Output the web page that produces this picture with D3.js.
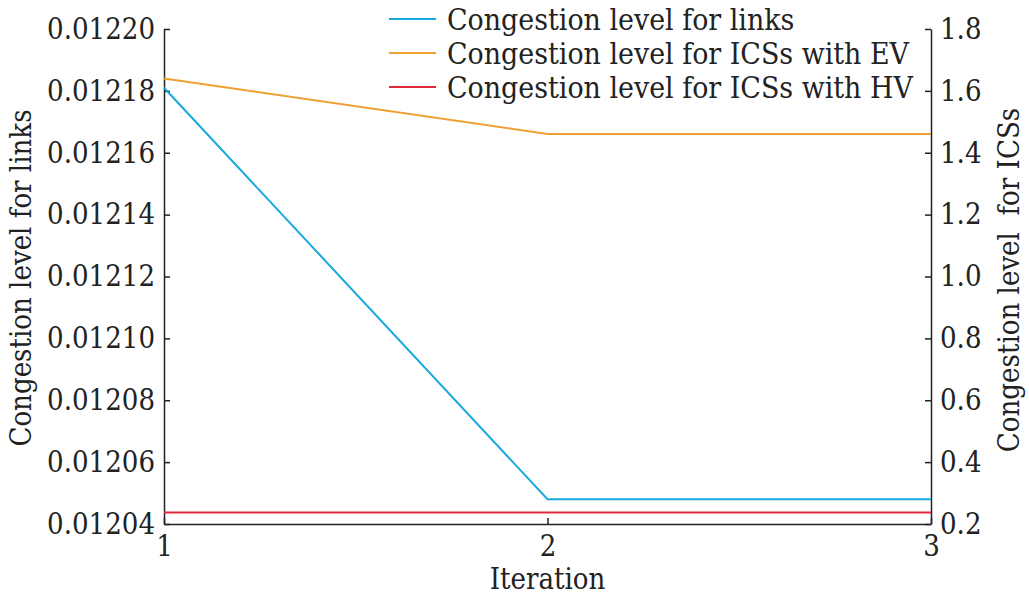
<!DOCTYPE html>
<html lang='en'>
<head>
<meta charset='utf-8'>
<script src='https://cdnjs.cloudflare.com/ajax/libs/d3/7.8.5/d3.min.js'></script>
<title>Congestion level</title>
<style>
body {
   margin:0;
   background:white;
   overflow:hidden;
}
svg text {
   fill:#222;
}
</style>
</head>
<body>
<script>
var iterations = [1, 2, 3];
var linkLevel = [0.012181, 0.012048, 0.012048];
var evLevel = [1.640, 1.461, 1.461];
var hvLevel = [0.237, 0.237, 0.237];
var leftTicks = [0.01204, 0.01206, 0.01208, 0.01210, 0.01212, 0.01214, 0.01216, 0.01218, 0.01220];
var rightTicks = [0.2, 0.4, 0.6, 0.8, 1.0, 1.2, 1.4, 1.6, 1.8];
var legendNames = ['Congestion level for links', 'Congestion level for ICSs with EV', 'Congestion level for ICSs with HV'];
var colors = ['#17a9de', '#f0a033', '#e0283a'];

var W = 1029, H = 599;
var m = {left:164, right:98, top:29, bottom:75};
var serif = "'DejaVu Serif Condensed', 'DejaVu Serif', serif";

var svg = d3.select('body').append('svg').attr('width', W).attr('height', H)
   .attr('font-family', serif)
   .style('font-stretch', 'semi-condensed');

// size the serif font so a tick label is as wide as in the picture (~108px)
var probe = svg.append('text').attr('font-size', 33).text('0.01220');
var fs = 33 * 108 / probe.node().getComputedTextLength();
probe.remove();

var x = d3.scaleLinear().domain([1, 3]).range([m.left, W - m.right]);
var yL = d3.scaleLinear().domain([0.01204, 0.01220]).range([H - m.bottom, m.top]);
var yR = d3.scaleLinear().domain([0.2, 1.8]).range([H - m.bottom, m.top]);

// axes, ticks pointing inward
var axL = svg.append('g').attr('transform', 'translate(' + m.left + ',0)')
   .call(d3.axisLeft(yL).tickValues(leftTicks).tickSizeInner(-6).tickSizeOuter(0).tickPadding(9).tickFormat(d3.format('.5f')));
var axR = svg.append('g').attr('transform', 'translate(' + (W - m.right) + ',0)')
   .call(d3.axisRight(yR).tickValues(rightTicks).tickSizeInner(-6).tickSizeOuter(0).tickPadding(9).tickFormat(d3.format('.1f')));
var axB = svg.append('g').attr('transform', 'translate(0,' + (H - m.bottom) + ')')
   .call(d3.axisBottom(x).tickValues(iterations).tickSizeInner(-6).tickSizeOuter(0).tickPadding(32 - 0.71 * fs).tickFormat(d3.format('d')));

[axL, axR, axB].forEach(function(g) {
   g.attr('font-family', null).attr('font-size', fs);
   g.selectAll('path.domain').attr('stroke', '#222').attr('stroke-width', 1.5);
   g.selectAll('.tick line').attr('stroke', '#222').attr('stroke-width', 1.5);
   g.selectAll('.tick text').attr('fill', '#222');
});

// series
var series = [
   {vals:linkLevel, y:yL},
   {vals:evLevel, y:yR},
   {vals:hvLevel, y:yR}
];
series.forEach(function(s, i) {
   var line = d3.line().x(function(d, j){return x(iterations[j]);}).y(function(d){return s.y(d);});
   svg.append('path').datum(s.vals)
      .attr('d', line)
      .attr('fill', 'none')
      .attr('stroke', colors[i])
      .attr('stroke-width', 2);
});

// legend
var leg = svg.append('g').attr('transform', 'translate(389,19)');
legendNames.forEach(function(name, i) {
   var row = leg.append('g').attr('transform', 'translate(0,' + (i * 34) + ')');
   row.append('line').attr('x1', 0).attr('x2', 47).attr('y1', 0).attr('y2', 0)
      .attr('stroke', colors[i]).attr('stroke-width', 2);
   row.append('text').attr('x', 58).attr('y', 0).attr('dy', '0.36em')
      .attr('font-size', fs * 1.03).text(name);
});

// axis titles
svg.append('text')
   .attr('transform', 'translate(31,' + 278 + ') rotate(-90)')
   .attr('text-anchor', 'middle')
   .attr('font-size', fs)
   .text('Congestion level for links');
svg.append('text')
   .attr('transform', 'translate(1019,' + 280 + ') rotate(-90)')
   .attr('text-anchor', 'middle')
   .attr('font-size', fs)
   .style('white-space', 'pre')
   .text('Congestion level  for ICSs');
svg.append('text')
   .attr('x', x(2))
   .attr('y', 589)
   .attr('text-anchor', 'middle')
   .attr('font-size', fs)
   .text('Iteration');
</script>
</body>
</html>
